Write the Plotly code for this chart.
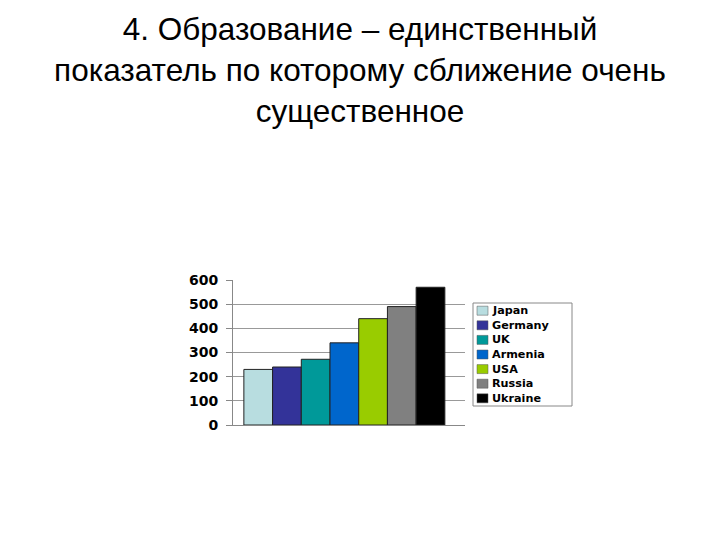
import plotly.graph_objects as go

countries = ['Japan', 'Germany', 'UK', 'Armenia', 'USA', 'Russia', 'Ukraine']
values = [230, 240, 272, 340, 440, 490, 570]
colors = ['#B8DDE0', '#333399', '#009999', '#0066CC', '#99CC00', '#808080', '#000000']

# plot area in figure pixels (page adds an 8px offset, compensated here)
W, H = 720, 540
L, R, T, B = 225, 263, 272, 123
pw, ph = W - L - R, H - T - B

def px(x):
    return (x - L) / pw

def py(y):
    return (H - B - y) / ph

fig = go.Figure()

for name, val, col in zip(countries, values, colors):
    fig.add_trace(go.Bar(x=[''], y=[val], name=name, showlegend=False,
                         marker=dict(color=col, line=dict(color='#222222', width=1))))

# legend drawn by hand so its rows sit as tight as in the original
shapes = [dict(type='rect', xref='paper', yref='paper',
               x0=px(465), x1=px(564), y0=py(398), y1=py(295),
               line=dict(color='#888888', width=1), fillcolor='white')]
annotations = []
for i, (name, col) in enumerate(zip(countries, colors)):
    yc = 302.7 + i * 14.6
    shapes.append(dict(type='rect', xref='paper', yref='paper',
                       x0=px(469), x1=px(480), y0=py(yc + 4.5), y1=py(yc - 4.5),
                       line=dict(color='#555555', width=0.5), fillcolor=col))
    annotations.append(dict(text=name, xref='paper', yref='paper',
                            x=px(482), y=py(yc), xanchor='left', yanchor='middle',
                            showarrow=False,
                            font=dict(family='DejaVu Sans', size=11.2, color='black', weight='bold')))

fig.update_layout(
    barmode='group', bargap=0.047, bargroupgap=0,
    font_family='Liberation Sans',
    title=dict(text='4. Образование – единственный<br>показатель по которому сближение очень<br>существенное',
               x=0.4889, xanchor='center', y=0.94, yanchor='top',
               font=dict(family='Liberation Sans', size=31.5, color='black')),
    xaxis=dict(showticklabels=False, showline=True, linecolor='#888888', showgrid=False,
               range=[-0.528, 0.572]),
    yaxis=dict(range=[0, 600], dtick=100, showline=True, linecolor='#888888',
               ticks='outside', ticklen=6, tickcolor='#888888', ticklabelstandoff=5,
               gridcolor='#999999', gridwidth=1,
               tickfont=dict(family='DejaVu Sans', size=14, color='black', weight='bold')),
    shapes=shapes,
    annotations=annotations,
    plot_bgcolor='white', paper_bgcolor='white',
    margin=dict(l=L, r=R, t=T, b=B),
    width=W, height=H
)

fig.write_html("out.html")
